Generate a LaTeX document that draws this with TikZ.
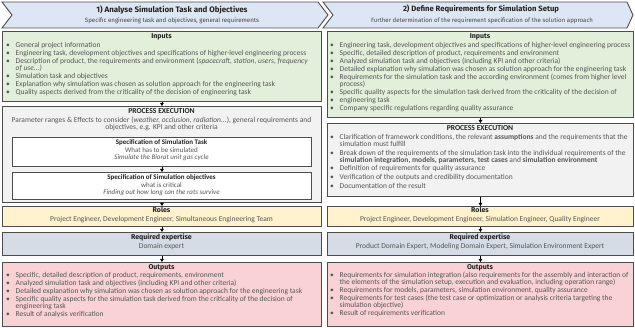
\documentclass[tikz,border=0pt]{standalone}
\usepackage{graphicx}
\usepackage{fontspec}
\setmainfont{Carlito}
\newfontfamily\hdfont{Fira Sans}
\usetikzlibrary{arrows.meta}
\definecolor{hdblue}{HTML}{DCE6F4}
\definecolor{ingreen}{HTML}{E2EFDA}
\definecolor{procgrey}{HTML}{F2F2F2}
\definecolor{roleyel}{HTML}{FFF2CC}
\definecolor{expblue}{HTML}{D6DCE5}
\definecolor{outpink}{HTML}{F9D2D5}
\definecolor{edgec}{HTML}{4D4D4D}
\definecolor{txtc}{HTML}{555555}
\definecolor{ttlc}{HTML}{222222}
\newcommand{\bl}{\makebox[9.5pt][l]{\textbullet}}
\newcommand{\cl}{\hspace*{9.5pt}}
\tikzset{
  box/.style={draw=edgec, line width=0.9pt, rectangle, inner sep=0pt, anchor=north west},
  inbox/.style={draw=edgec, line width=0.9pt, rectangle, inner sep=0pt, anchor=north west, fill=white},
  hdr/.style={fill=hdblue, draw=edgec, line width=0.9pt, line join=miter},
  hdtitle/.style={font=\hdfont\bfseries, text=ttlc, inner sep=0pt, anchor=center},
  hdsub/.style={font=\hdfont, text=txtc!80!black, inner sep=0pt, anchor=center},
  sect/.style={font=\hdfont\bfseries\fontsize{7}{8}\selectfont, text=ttlc, inner sep=0pt, anchor=base},
  sectc/.style={font=\bfseries\fontsize{7.6}{8}\selectfont, text=ttlc, inner sep=0pt, anchor=base},
  spect/.style={font=\bfseries\fontsize{7}{7.4}\selectfont, text=ttlc, inner sep=0pt, anchor=base},
  spectx/.style={font=\fontsize{7}{7.4}\selectfont, text=txtc, inner sep=0pt, anchor=north, align=center},
  ctext/.style={font=\fontsize{7.5}{7.5}\selectfont, text=txtc, inner sep=0pt, anchor=base, align=center},
  ctextm/.style={font=\fontsize{7.5}{7.5}\selectfont, text=txtc, inner sep=0pt, anchor=north, align=center},
  blist/.style={font=\fontsize{7.5}{7}\selectfont, text=txtc, inner sep=0pt, anchor=north west, align=left},
  arr/.style={-{Triangle[length=3pt,width=3.6pt]}, line width=0.8pt, draw=black}
}
\begin{document}
\begin{tikzpicture}[x=1pt,y=-1pt]
\useasboundingbox (0,0) rectangle (635,328);
% ---------- headers
\draw[hdr] (2,2) -- (318,2) -- (328,15) -- (318,28) -- (2,28) -- (12,15) -- cycle;
\draw[hdr] (323,2) -- (627,2) -- (633,15) -- (627,28) -- (323,28) -- (333,15) -- cycle;
\node[hdtitle] (hL) at (172,9.5) {\resizebox{151pt}{!}{1) Analyse Simulation Task and Objectives}};
\node[hdsub] (hLs) at (172,20.5) {\resizebox{174pt}{!}{Specific engineering task and objectives, general requirements}};
\node[hdtitle] (hR) at (481,9.5) {\resizebox{156pt}{!}{2) Define Requirements for Simulation Setup}};
\node[hdsub] (hRs) at (482,20.5) {\resizebox{222pt}{!}{Further determination of the requirement specification of the solution approach}};
% ---------- left column
\node[box, fill=ingreen, minimum width=319pt, minimum height=70pt] (inL) at (2,31) {};
\node[box, fill=procgrey, minimum width=319pt, minimum height=96pt] (prL) at (2,106) {};
\node[inbox, minimum width=299pt, minimum height=29pt] (sp1) at (12,137) {};
\node[inbox, minimum width=299pt, minimum height=27.5pt] (sp2) at (12,172) {};
\node[box, fill=roleyel, minimum width=319pt, minimum height=20pt] (roL) at (2,206) {};
\node[box, fill=expblue, minimum width=319pt, minimum height=23pt] (exL) at (2,232) {};
\node[box, fill=outpink, minimum width=319pt, minimum height=64pt] (ouL) at (2,262) {};
\draw[arr] (inL.south) -- (prL.north);
\draw[arr] (sp1.south) -- (sp2.north);
\draw[arr] (prL.south) -- (roL.north);
\draw[arr] (roL.south) -- (exL.north);
\draw[arr] (exL.south) -- (ouL.north);
\node[sect] (inLt) at (161.5,38.5) {Inputs};
\node[blist] (inLb) at (6,41.8) {\bl General project information\\[1pt]
\bl Engineering task, development objectives and specifications of higher-level engineering process\\[1pt]
\bl Description of product, the requirements and environment (\textit{spacecraft, station, users, frequency}\\
\cl\textit{of use...)}\\[1pt]
\bl Simulation task and objectives\\[1pt]
\bl Explanation why simulation was chosen as solution approach for the engineering task\\[1pt]
\bl Quality aspects derived from the criticality of the decision of engineering task};
\node[sectc] (prLt) at (161.5,114) {PROCESS EXECUTION};
\node[ctextm] (prLx) at (161.5,116.8) {Parameter ranges \& Effects to consider (\textit{weather, occlusion, radiation...}), general requirements and\\objectives, e.g. KPI and other criteria};
\node[spect] (sp1t) at (161.5,145) {Specification of Simulation Task};
\node[spectx] (sp1x) at (161.5,147.5) {What has to be simulated\\\textit{Simulate the Biorat unit gas cycle}};
\node[spect] (sp2t) at (161.5,179.5) {Specification of Simulation objectives};
\node[spectx] (sp2x) at (161.5,182) {what is critical\\\textit{Finding out how long can the rats survive}};
\node[sect] (roLt) at (161.5,213) {Roles};
\node[ctext] (roLx) at (161.5,222) {Project Engineer, Development Engineer, Simultaneous Engineering Team};
\node[sect] (exLt) at (161.5,239.5) {Required expertise};
\node[ctext] (exLx) at (161.5,249) {Domain expert};
\node[sect] (ouLt) at (161.5,269.5) {Outputs};
\node[blist] (ouLb) at (6,272.3) {\bl Specific, detailed description of product, requirements, environment\\[1pt]
\bl Analyzed simulation task and objectives (including KPI and other criteria)\\[1pt]
\bl Detailed explanation why simulation was chosen as solution approach for the engineering task\\[1pt]
\bl Specific quality aspects for the simulation task derived from the criticality of the decision of\\
\cl engineering task\\[1pt]
\bl Result of analysis verification};
% ---------- right column
\node[box, fill=ingreen, minimum width=306pt, minimum height=86pt] (inR) at (327,31) {};
\node[box, fill=procgrey, minimum width=306pt, minimum height=73pt] (prR) at (327,123) {};
\node[box, fill=roleyel, minimum width=306pt, minimum height=20pt] (roR) at (327,206) {};
\node[box, fill=expblue, minimum width=306pt, minimum height=23pt] (exR) at (327,232) {};
\node[box, fill=outpink, minimum width=306pt, minimum height=64pt] (ouR) at (327,262) {};
\draw[arr] (inR.south) -- (prR.north);
\draw[arr] (prR.south) -- (roR.north);
\draw[arr] (roR.south) -- (exR.north);
\draw[arr] (exR.south) -- (ouR.north);
\node[sect] (inRt) at (480,38.5) {Inputs};
\node[blist] (inRb) at (330,41.8) {\bl Engineering task, development objectives and specifications of higher-level engineering process\\[1pt]
\bl Specific, detailed description of product, requirements and environment\\[1pt]
\bl Analyzed simulation task and objectives (including KPI and other criteria)\\[1pt]
\bl Detailed explanation why simulation was chosen as solution approach for the engineering task\\[1pt]
\bl Requirements for the simulation task and the according environment (comes from higher level\\
\cl process)\\[1pt]
\bl Specific quality aspects for the simulation task derived from the criticality of the decision of\\[1pt]
\bl engineering task\\[1pt]
\bl Company specific regulations regarding quality assurance};
\node[sectc] (prRt) at (480,131) {PROCESS EXECUTION};
\node[blist] (prRb) at (330,133.8) {\bl Clarification of framework conditions, the relevant \textbf{assumptions} and the requirements that the\\
\cl simulation must fulfill\\[1.8pt]
\bl Break down of the requirements of the simulation task into the individual requirements of the\\
\cl\textbf{simulation integration, models, parameters, test cases} and \textbf{simulation environment}\\[1.8pt]
\bl Definition of requirements for quality assurance\\[1.8pt]
\bl Verification of the outputs and credibility documentation\\[1.8pt]
\bl Documentation of the result};
\node[sect] (roRt) at (480,213) {Roles};
\node[ctext] (roRx) at (480,222) {Project Engineer, Development Engineer, Simulation Engineer, Quality Engineer};
\node[sect] (exRt) at (480,239.5) {Required expertise};
\node[ctext] (exRx) at (480,249) {Product Domain Expert, Modeling Domain Expert, Simulation Environment Expert};
\node[sect] (ouRt) at (480,269.5) {Outputs};
\node[blist] (ouRb) at (330,272.3) {\bl Requirements for simulation integration (also requirements for the assembly and interaction of\\
\cl the elements of the simulation setup, execution and evaluation, including operation range)\\[1pt]
\bl Requirements for models, parameters, simulation environment, quality assurance\\[1pt]
\bl Requirements for test cases (the test case or optimization or analysis criteria targeting the\\
\cl simulation objective)\\[1pt]
\bl Result of requirements verification};
\end{tikzpicture}
\end{document}
